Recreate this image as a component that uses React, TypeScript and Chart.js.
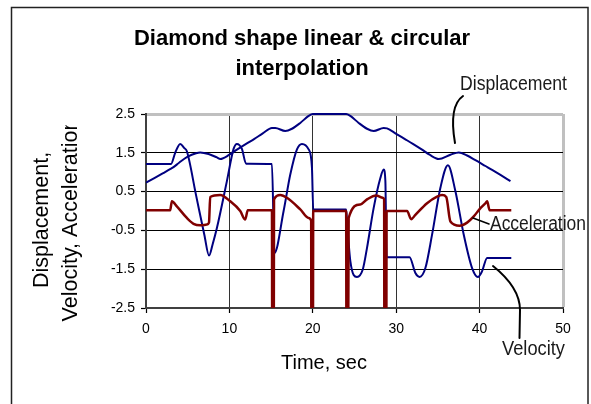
import { useEffect, useRef } from "react";
import { Chart, registerables } from "chart.js";

Chart.register(...registerables);

const FONT = '"Liberation Sans", Arial, Helvetica, sans-serif';

// Displacement (time in sec, value)
const dispT = [0, 1, 2, 3, 3.3, 4, 5, 6, 6.5, 7.5, 8.5, 8.9, 10, 10.9, 12, 13, 14, 15.1, 15.5, 16.7, 17.5, 18.5, 19.5, 20, 24, 24.5, 25.5, 26.5, 27.3, 28.5, 28.9, 30, 31, 32, 33.1, 34, 35.1, 36.5, 37.5, 38.5, 39.5, 40.7, 41.5, 42.5, 43.7];
const dispV = [0.73, 0.85, 0.97, 1.09, 1.13, 1.25, 1.4, 1.49, 1.51, 1.47, 1.38, 1.34, 1.45, 1.58, 1.73, 1.86, 2.0, 2.14, 2.14, 2.06, 2.12, 2.27, 2.45, 2.5, 2.5, 2.45, 2.27, 2.12, 2.06, 2.14, 2.13, 1.99, 1.86, 1.73, 1.58, 1.45, 1.34, 1.45, 1.51, 1.43, 1.31, 1.16, 1.06, 0.93, 0.77];

// Velocity
const velT = [0, 3.0, 3.5, 4.1, 4.6, 4.9, 6.0, 7.0, 7.56, 8.0, 8.5, 9.7, 10.5, 10.9, 11.5, 12.0, 15.1, 15.4, 16.5, 17.3, 18.1, 18.7, 19.5, 19.9, 20.05, 24.0, 24.1, 24.5, 25.3, 26.0, 26.5, 27.3, 28.1, 28.5, 28.7, 28.85, 31.6, 32.3, 32.8, 33.5, 34.3, 35.3, 36.2, 37.1, 38.1, 39.1, 39.8, 40.3, 40.9, 43.8];
const velV = [1.21, 1.21, 1.5, 1.73, 1.62, 1.54, 0.41, -0.62, -1.15, -0.85, -0.44, 0.77, 1.6, 1.73, 1.6, 1.22, 1.21, -1.08, 0.0, 0.94, 1.59, 1.73, 1.59, 1.11, 0.04, 0.04, -0.26, -1.29, -1.7, -1.5, -0.95, 0.08, 0.85, 1.07, 0.78, -1.19, -1.19, -1.6, -1.7, -1.47, -0.61, 0.6, 1.18, 0.51, -0.61, -1.47, -1.7, -1.55, -1.21, -1.21];

// Acceleration (spikes run below the axis minimum and are clipped)
const accT = [0, 2.9, 3.1, 3.7, 4.9, 5.7, 6.5, 7.3, 7.55, 7.7, 8.9, 10.1, 11.3, 11.9, 12.2, 15.1, 15.15, 15.3, 15.35, 16.1, 16.9, 18.5, 19.5, 19.8, 19.85, 20.0, 20.05, 24.0, 24.05, 24.2, 24.3, 25.7, 26.5, 27.6, 28.4, 28.55, 28.6, 28.8, 28.85, 31.3, 31.8, 32.3, 33.7, 34.9, 35.5, 36.0, 36.5, 37.6, 38.5, 39.3, 40.0, 40.7, 40.9, 41.2, 43.8];
const accV = [0.02, 0.02, 0.25, 0.12, -0.18, -0.33, -0.37, -0.35, -0.3, 0.36, 0.41, 0.25, 0.0, -0.22, 0.02, 0.02, -6, -6, 0.3, 0.41, 0.34, 0.04, -0.18, -0.25, -6, -6, 0.0, 0.0, -6, -6, -0.18, 0.17, 0.3, 0.4, 0.34, 0.3, -6, -6, 0.0, 0.0, -0.21, -0.1, 0.2, 0.37, 0.41, 0.36, -0.27, -0.38, -0.3, -0.14, 0.05, 0.2, 0.25, 0.02, 0.02];

const titleLines = ["Diamond shape linear & circular", "interpolation"];
const yTitleLines = ["Displacement,", "Velocity, Acceleration"];
const xTitle = "Time, sec";
const seriesNames = ["Displacement", "Velocity", "Acceleration"];

const toPoints = (t: number[], v: number[]) => t.map((x, i) => ({ x, y: v[i] }));

export default function App() {
  const ref = useRef<HTMLCanvasElement | null>(null);

  useEffect(() => {
    const canvas = ref.current;
    if (!canvas) return;

    const decor = {
      id: "decor",
      beforeDraw(chart: any) {
        const ctx = chart.ctx;
        ctx.save();
        ctx.fillStyle = "#ffffff";
        ctx.fillRect(0, 0, chart.width, chart.height);
        ctx.restore();
      },
      afterDraw(chart: any) {
        const ctx: CanvasRenderingContext2D = chart.ctx;
        ctx.save();
        // outer border
        ctx.strokeStyle = "#222";
        ctx.lineWidth = 1.5;
        ctx.strokeRect(11.5, 7.5, 576.5, 430);

        // title
        ctx.fillStyle = "#000";
        ctx.textAlign = "center";
        ctx.textBaseline = "alphabetic";
        ctx.font = `bold 22px ${FONT}`;
        ctx.fillText(titleLines[0], 302, 45);
        ctx.fillText(titleLines[1], 302, 75);

        // x title
        ctx.font = `20px ${FONT}`;
        ctx.fillText(xTitle, 324, 369);

        // y title
        ctx.font = `21.5px ${FONT}`;
        ctx.save();
        ctx.translate(48, 220);
        ctx.rotate(-Math.PI / 2);
        ctx.fillText(yTitleLines[0], 0, 0);
        ctx.restore();

        const full = ctx.measureText(yTitleLines[1]).width;
        const nW = ctx.measureText("n").width;
        const top = 220 - full / 2;
        ctx.save();
        ctx.beginPath();
        ctx.rect(0, top + nW * 0.55, 120, 404);
        ctx.clip();
        ctx.translate(77, 220);
        ctx.rotate(-Math.PI / 2);
        ctx.fillText(yTitleLines[1], 0, 0);
        ctx.restore();

        // annotations (narrow)
        const narrow = (text: string, x: number, y: number, target: number) => {
          ctx.font = `20px ${FONT}`;
          const w = ctx.measureText(text).width;
          ctx.save();
          ctx.translate(x, y);
          ctx.scale(target / w, 1);
          ctx.textAlign = "left";
          ctx.fillStyle = "#1a1a1a";
          ctx.fillText(text, 0, 0);
          ctx.restore();
        };
        narrow(seriesNames[0], 460, 90, 107);
        narrow(seriesNames[2], 490, 230, 96);
        narrow(seriesNames[1], 502, 355, 63);

        // callout lines
        ctx.strokeStyle = "#000";
        ctx.lineWidth = 2;
        ctx.lineCap = "round";
        ctx.beginPath();
        ctx.moveTo(463, 96);
        ctx.bezierCurveTo(453, 103, 451, 120, 455, 143);
        ctx.stroke();

        ctx.lineWidth = 1.5;
        ctx.beginPath();
        ctx.moveTo(473, 218);
        ctx.lineTo(489, 224);
        ctx.stroke();

        ctx.lineWidth = 2;
        ctx.beginPath();
        ctx.moveTo(493, 266);
        ctx.bezierCurveTo(508, 278, 520, 292, 520, 310);
        ctx.lineTo(519.5, 338);
        ctx.stroke();
        ctx.restore();
      },
    };

    const chart = new Chart(canvas, {
      type: "line",
      data: {
        datasets: [
          {
            label: seriesNames[2],
            data: toPoints(accT, accV),
            borderColor: "#800000",
            borderWidth: 2.5,
            pointRadius: 0,
            cubicInterpolationMode: "monotone",
            order: 0,
            clip: 0,
          },
          {
            label: seriesNames[1],
            data: toPoints(velT, velV),
            borderColor: "#000080",
            borderWidth: 2,
            pointRadius: 0,
            cubicInterpolationMode: "monotone",
            order: 1,
            clip: { left: 0, right: 0, top: 3, bottom: 0 },
          },
          {
            label: seriesNames[0],
            data: toPoints(dispT, dispV),
            borderColor: "#000080",
            borderWidth: 2,
            pointRadius: 0,
            cubicInterpolationMode: "monotone",
            order: 2,
            clip: { left: 0, right: 0, top: 3, bottom: 0 },
          },
        ],
      } as any,
      options: {
        responsive: false,
        animation: false,
        devicePixelRatio: 1,
        layout: { padding: { left: 0, top: 114, right: 28, bottom: 0 }, autoPadding: false } as any,
        plugins: { legend: { display: false }, tooltip: { enabled: false }, title: { display: false } },
        scales: {
          x: {
            type: "linear",
            min: 0,
            max: 50,
            afterFit: (s: any) => {
              s.height = 96;
            },
            ticks: {
              stepSize: 10,
              color: "#000",
              font: { family: FONT, size: 14 },
              padding: 8,
              maxRotation: 0,
            },
            grid: {
              color: (c: any) => (c.tick && c.tick.value === 50 ? "#c0c0c0" : "#333"),
              lineWidth: (c: any) => (c.tick && c.tick.value === 50 ? 3 : 1),
              tickColor: "#000",
              tickLength: 5,
              tickWidth: 1.2,
            },
            border: { display: true, color: "#404040", width: 2 },
          },
          y: {
            type: "linear",
            min: -2.5,
            max: 2.5,
            afterFit: (s: any) => {
              s.width = 146;
            },
            ticks: {
              stepSize: 1,
              color: "#000",
              font: { family: FONT, size: 14 },
              padding: 6,
              callback: (v: any) => Number(v).toFixed(1),
            },
            grid: {
              color: (c: any) => (c.tick && c.tick.value === 2.5 ? "#c0c0c0" : "#000"),
              lineWidth: (c: any) => (c.tick && c.tick.value === 2.5 ? 3 : 1),
              tickColor: "#000",
              tickLength: 5,
              tickWidth: 1.2,
            },
            border: { display: true, color: "#404040", width: 2 },
          },
        },
      } as any,
      plugins: [decor],
    });

    return () => chart.destroy();
  }, []);

  return (
    <div style={{ position: "fixed", left: 0, top: 0, width: 591, height: 404, background: "#fff" }}>
      <canvas ref={ref} width={591} height={404} style={{ display: "block", width: 591, height: 404 }} />
    </div>
  );
}
